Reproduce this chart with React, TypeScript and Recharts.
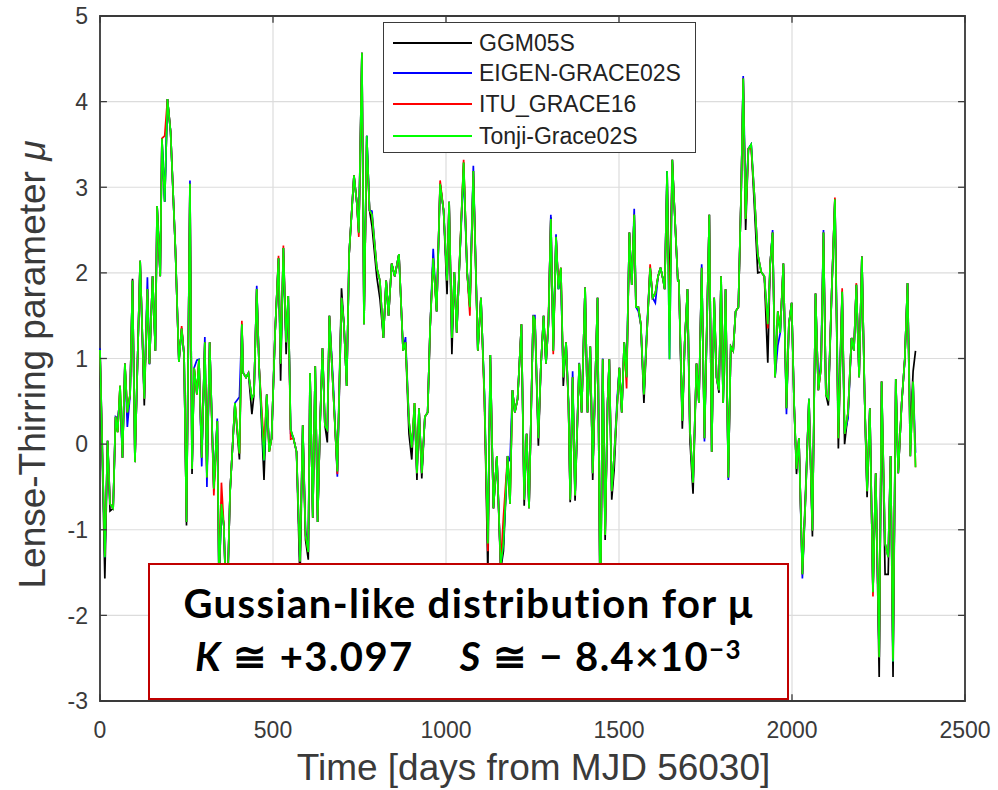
import React from 'react';
import { LineChart, Line, XAxis, YAxis, CartesianGrid, ReferenceLine, ReferenceArea } from 'recharts';

// days from MJD 56030 (shared sampling of the four solutions)
const days = [
  0, 14, 22, 29, 38, 45, 51, 58, 65, 72, 79, 87, 94, 101, 116, 128, 137, 143, 152, 160,
  165, 174, 179, 187, 195, 204, 218, 228, 236, 243, 250, 260, 266, 272, 280, 286, 294, 303, 309, 317,
  329, 339, 344, 351, 358, 366, 376, 390, 403, 410, 414, 422, 429, 439, 445, 453, 460, 474, 482, 489,
  496, 506, 516, 522, 530, 538, 544, 551, 559, 568, 578, 586, 594, 602, 607, 615, 622, 629, 636, 643,
  650, 657, 663, 674, 686, 698, 705, 713, 720, 734, 742, 748, 757, 763, 771, 779, 786, 800, 809, 819,
  827, 834, 843, 852, 864, 876, 883, 893, 901, 909, 916, 922, 930, 939, 947, 954, 963, 973, 983, 993,
  1003, 1009, 1017, 1024, 1031, 1038, 1051, 1061, 1069, 1079, 1092, 1101, 1111, 1121, 1128, 1137, 1147, 1158, 1166, 1178,
  1185, 1192, 1199, 1207, 1218, 1226, 1233, 1240, 1252, 1257, 1267, 1274, 1282, 1289, 1296, 1303, 1310, 1318, 1325, 1332,
  1339, 1347, 1354, 1359, 1366, 1373, 1385, 1392, 1402, 1409, 1417, 1424, 1431, 1438, 1446, 1453, 1460, 1467, 1472, 1479,
  1486, 1495, 1501, 1508, 1515, 1522, 1530, 1537, 1544, 1549, 1556, 1563, 1572, 1580, 1590, 1597, 1605, 1613, 1620, 1628,
  1632, 1639, 1646, 1654, 1660, 1670, 1673, 1683, 1690, 1698, 1705, 1714, 1724, 1731, 1739, 1747, 1754, 1761, 1768, 1775,
  1782, 1789, 1795, 1801, 1808, 1816, 1823, 1830, 1837, 1845, 1853, 1859, 1866, 1874, 1882, 1891, 1901, 1911, 1920, 1930,
  1937, 1944, 1951, 1959, 1966, 1975, 1984, 1991, 1999, 2006, 2013, 2020, 2030, 2039, 2049, 2059, 2068, 2076, 2084, 2091,
  2098, 2105, 2115, 2124, 2134, 2145, 2152, 2162, 2172, 2179, 2186, 2194, 2202, 2210, 2217, 2225, 2234, 2242, 2252, 2259,
  2269, 2278, 2285, 2292, 2300, 2307, 2317, 2326, 2334, 2342, 2350, 2357,
];

// Tonji-Grace02S (drawn on top, so it is the one mostly visible)
const tonji = [
  1.10, -1.32, 0.04, -0.70, -0.75, 0.32, 0.14, 0.68, -0.16, 0.94, 0.37, 0.58, 1.91, -0.21, 2.14, 0.53, 1.81, 0.94, 1.96, 1.09,
  2.78, 1.96, 3.57, 2.83, 4.03, 3.65, 2.27, 0.96, 1.35, 1.04, -0.91, 3.04, -0.29, 0.89, 0.58, 0.99, -0.16, 1.19, -0.39, 1.19,
  -0.52, 0.27, -1.62, -0.70, -0.96, -2.08, -0.55, 0.48, -0.11, 1.40, 0.83, 0.78, 0.83, 0.53, 0.58, 1.81, 0.89, -0.19, 0.58, -0.09,
  0.07, 1.30, 2.17, 0.94, 2.29, 1.19, 1.73, 0.17, 0.07, -0.09, -1.37, 0.22, -1.06, -1.26, 0.83, -0.86, 0.91, -0.91, 0.22, 1.12,
  0.22, 0.17, 1.50, 0.63, -0.32, 1.71, 1.40, 0.68, 2.22, 3.14, 2.83, 2.47, 4.57, 1.40, 3.60, 2.73, 2.68, 2.06, 1.91, 1.24,
  1.91, 1.50, 2.11, 1.96, 2.22, 1.09, 1.19, 0.27, -0.04, 0.48, -0.34, 0.42, -0.34, 0.32, 0.37, 1.35, 2.17, 1.55, 3.04, 2.73,
  1.91, 2.83, 1.24, 2.01, 1.30, 2.01, 3.29, 2.01, 1.60, 3.19, 1.09, 1.71, 0.58, -1.16, 1.04, -0.75, -0.14, -1.42, -1.16, -0.14,
  -0.70, 0.63, 0.37, 0.53, 1.40, -0.65, 0.12, -0.75, 1.50, 1.45, 0.07, 0.89, 1.50, 0.94, 1.40, 2.63, 1.09, 2.42, 1.81, 2.06,
  0.78, 1.19, 0.48, -0.65, 0.78, -0.60, 0.94, 0.37, 1.83, 0.37, 1.14, -0.34, 0.68, 1.71, -2.14, 0.99, -1.06, 0.48, 0.99, -0.55,
  -0.14, 0.48, 0.89, 0.37, 1.19, 0.78, 2.47, 1.86, 2.68, 1.60, 1.60, 1.40, 0.58, 1.24, 2.06, 1.71, 1.76, 1.96, 2.06, 1.91,
  1.81, 3.19, 0.99, 3.32, 2.78, 1.91, 1.91, 0.27, 1.19, 1.81, 0.17, -0.45, 0.94, 0.48, 2.06, 0.07, 1.40, 2.68, -0.09, 1.71,
  0.78, 0.63, 1.96, 0.48, 1.81, -0.39, 1.14, 1.09, 1.55, 1.60, 2.93, 4.27, 2.63, 3.45, 3.50, 2.93, 2.22, 2.01, 1.96, 1.40,
  2.11, 2.47, 0.78, 1.55, 1.30, 2.11, 0.42, 1.40, 1.65, 0.48, -0.29, 0.07, -1.52, -0.65, 0.53, -1.01, 1.76, 0.63, 0.89, 2.47,
  0.58, 0.53, 1.81, 2.86, 0.07, 1.78, 0.12, 0.37, 1.24, 1.09, 1.86, 0.78, 2.19, 0.53, -0.55, 0.42, -1.73, -0.34, -2.49, 0.73,
  -1.16, -1.32, -0.14, -2.54, 0.76, -0.34, 0.48, 0.99, 1.88, -0.14, 0.73, -0.27,
];

// points where the other solutions visibly depart from Tonji-Grace02S: [day, value]
const ggm05sDiff = [
  [14, -1.57], [29, -0.78], [94, 1.93], [128, 0.45], [250, -0.95], [266, -0.35], [403, -0.18], [439, 0.35],
  [474, -0.42], [522, 0.74], [538, 1.05], [578, -1.62], [594, -1.12], [602, -1.35], [657, 0.02], [698, 1.82],
  [786, 2.55], [800, 1.95], [809, 1.70], [893, 0.12], [901, -0.18], [916, -0.42], [930, -0.40], [1003, 1.75],
  [1017, 1.05], [1121, -1.53], [1158, -1.47], [1166, -1.25], [1226, -0.72], [1267, -0.02], [1303, 2.65], [1339, 0.68],
  [1359, -0.68], [1373, -0.66], [1424, -0.42], [1460, -1.12], [1479, -0.65], [1486, -0.30], [1572, 0.48], [1646, 1.65],
  [1683, 0.18], [1705, 0.05], [1714, -0.58], [1789, 0.60], [1866, 2.50], [1891, 2.80], [1901, 2.00], [1930, 0.95],
  [2013, -0.35], [2039, -0.58], [2059, -1.08], [2105, 0.45], [2134, -0.05], [2152, 0.00], [2217, -0.62], [2252, -2.72],
  [2269, -1.52], [2278, -1.52], [2292, -2.72], [2342, 0.10], [2350, 0.85], [2357, 1.09],
];
const eigenDiff = [
  [0, 1.12], [51, 0.30], [58, 0.50], [79, 0.20], [137, 1.95], [143, 0.93], [260, 3.08], [280, 0.98],
  [294, -0.26], [303, 1.25], [309, -0.50], [339, 0.30], [344, -1.70], [351, -0.68], [366, -2.10], [403, 0.55],
  [453, 1.85], [489, -0.04], [551, 0.12], [594, -1.00], [643, 1.12], [674, 0.72], [686, -0.38], [786, 2.72],
  [883, 1.25], [909, 0.42], [963, 2.28], [1051, 3.20], [1079, 3.25], [1185, -0.20], [1257, 1.50], [1303, 2.68],
  [1318, 2.45], [1332, 1.95], [1366, 0.85], [1385, 0.95], [1453, 1.00], [1460, -1.02], [1495, 0.55], [1544, 2.75],
  [1556, 1.55], [1580, 1.30], [1605, 1.65], [1739, 2.10], [1747, 0.03], [1754, 1.35], [1816, -0.42], [1859, 4.30],
  [1866, 2.85], [1944, 2.50], [1959, 1.15], [1984, 0.35], [2030, -1.57], [2084, 1.00], [2091, 2.50], [2134, 0.25],
  [2162, 0.30], [2357, -0.10],
];
const ituDiff = [
  [14, -1.30], [187, 3.60], [236, 1.38], [329, -0.60], [351, -0.45], [410, 1.44], [474, -0.02], [516, 2.20],
  [530, 2.32], [551, 0.06], [686, -0.35], [748, 2.42], [771, 3.50], [983, 3.08], [1051, 3.32], [1069, 1.50],
  [1111, 0.50], [1121, -1.25], [1166, -0.85], [1296, 1.45], [1310, 1.05], [1325, 1.85], [1354, 0.45], [1522, 0.65],
  [1590, 2.10], [1639, 3.10], [1646, 1.35], [1882, 3.45], [1930, 1.35], [1966, 1.35], [2049, 0.52], [2124, 2.88],
  [2145, 1.82], [2186, 1.88], [2234, -1.78], [2292, -2.50],
];

const xTicks = [0, 500, 1000, 1500, 2000, 2500];
const yTicks = [-3, -2, -1, 0, 1, 2, 3, 4, 5];

const seriesInfo = [
  { key: 'ggm', name: 'GGM05S', color: '#000000' },
  { key: 'eigen', name: 'EIGEN-GRACE02S', color: '#0000ff' },
  { key: 'itu', name: 'ITU_GRACE16', color: '#ff0000' },
  { key: 'tonji', name: 'Tonji-Grace02S', color: '#00ff00' },
];

const pick = (diff: number[][], day: number, fallback: number) => {
  const hit = diff.find((d) => d[0] === day);
  return hit ? hit[1] : fallback;
};

const data = days.map((day, i) => ({
  day,
  ggm: pick(ggm05sDiff, day, tonji[i]),
  eigen: pick(eigenDiff, day, tonji[i]),
  itu: pick(ituDiff, day, tonji[i]),
  tonji: tonji[i],
}));

const FONT = '"Liberation Sans", Arial, Helvetica, sans-serif';
const AXIS_GRAY = '#3a3a3a';

const YTick = ({ x, y, payload }: any) => (
  <text x={x} y={y} dy="0.36em" textAnchor="end" fontSize={23} fontFamily={FONT} fill={AXIS_GRAY}>
    {payload.value}
  </text>
);

const XTick = ({ x, y, payload }: any) => (
  <text x={x} y={y} dy="0.71em" textAnchor="middle" fontSize={23} fontFamily={FONT} fill={AXIS_GRAY}>
    {payload.value}
  </text>
);

const XLabel = ({ viewBox }: any) => (
  <text
    x={viewBox.x + viewBox.width / 2 + 1}
    y={viewBox.y + 79}
    textAnchor="middle"
    fontSize={37}
    fontFamily={FONT}
    fill={AXIS_GRAY}
  >
    Time [days from MJD 56030]
  </text>
);

const YLabel = ({ viewBox }: any) => {
  const cx = viewBox.x + 32;
  const cy = viewBox.y + viewBox.height / 2 + 6;
  return (
    <text
      transform={`translate(${cx},${cy}) rotate(-90)`}
      textAnchor="middle"
      dominantBaseline="central"
      fontSize={37}
      fontFamily={FONT}
      fill={AXIS_GRAY}
    >
      Lense-Thirring parameter <tspan fontStyle="italic">{'\u03bc'}</tspan>
    </text>
  );
};

const annLine: React.CSSProperties = {
  position: 'absolute',
  left: 0,
  right: 0,
  fontSize: 40,
  lineHeight: '48px',
  height: 48,
  letterSpacing: 1.4,
  whiteSpace: 'nowrap',
};

export default function App() {
  return (
    <div style={{ position: 'absolute', left: 0, top: 0, width: 998, height: 790, background: '#fff' }}>
      <LineChart width={998} height={790} data={data} margin={{ top: 16, right: 33, bottom: 0, left: 0 }}>
        <CartesianGrid stroke="#dcdcdc" strokeWidth={1.2} />
        <XAxis
          dataKey="day"
          type="number"
          domain={[0, 2500]}
          ticks={xTicks}
          height={89}
          tickSize={0}
          tickMargin={21}
          axisLine={false}
          tickLine={false}
          tick={XTick}
          label={XLabel}
        />
        <YAxis
          type="number"
          domain={[-3, 5]}
          ticks={yTicks}
          width={100}
          tickSize={0}
          tickMargin={12}
          axisLine={false}
          tickLine={false}
          tick={YTick}
          label={YLabel}
        />
        {seriesInfo.map((s) => (
          <Line
            key={s.key}
            dataKey={s.key}
            name={s.name}
            type="linear"
            stroke={s.color}
            strokeWidth={1.7}
            dot={false}
            isAnimationActive={false}
          />
        ))}
        {yTicks.map((v) => (
          <ReferenceLine key={'yl' + v} segment={[{ x: 0, y: v }, { x: 20, y: v }]} stroke={AXIS_GRAY} strokeWidth={1.3} />
        ))}
        {yTicks.map((v) => (
          <ReferenceLine key={'yr' + v} segment={[{ x: 2480, y: v }, { x: 2500, y: v }]} stroke={AXIS_GRAY} strokeWidth={1.3} />
        ))}
        {xTicks.map((t) => (
          <ReferenceLine key={'xb' + t} segment={[{ x: t, y: -3 }, { x: t, y: -2.92 }]} stroke={AXIS_GRAY} strokeWidth={1.3} />
        ))}
        {xTicks.map((t) => (
          <ReferenceLine key={'xt' + t} segment={[{ x: t, y: 4.92 }, { x: t, y: 5 }]} stroke={AXIS_GRAY} strokeWidth={1.3} />
        ))}
        <ReferenceArea x1={0} x2={2500} y1={-3} y2={5} fill="none" fillOpacity={0} stroke={AXIS_GRAY} strokeWidth={1.8} />
      </LineChart>

      {/* legend box, top-centre of the axes */}
      <div
        style={{
          position: 'absolute',
          left: 383,
          top: 22,
          width: 311,
          height: 129,
          border: `1.8px solid ${AXIS_GRAY}`,
          background: '#fff',
          fontFamily: FONT,
          fontSize: 23,
          color: '#222',
        }}
      >
        {seriesInfo.map((s, i) => (
          <div
            key={s.key}
            style={{ position: 'absolute', left: 9, top: [7, 37, 68, 100][i], height: 26, display: 'flex', alignItems: 'center' }}
          >
            <div style={{ width: 79, height: 0, borderTop: `2px solid ${s.color}` }} />
            <span style={{ marginLeft: 7, whiteSpace: 'nowrap' }}>{s.name}</span>
          </div>
        ))}
      </div>

      {/* annotation box */}
      <div
        style={{
          position: 'absolute',
          left: 148,
          top: 563,
          width: 637,
          height: 133,
          border: '2.5px solid #c00000',
          background: '#fff',
          fontFamily: 'Lato, "Open Sans", sans-serif',
          fontWeight: 700,
          color: '#000',
          textAlign: 'center',
        }}
      >
        <div style={{ ...annLine, top: 14 }}>Gussian-like distribution for {'\u03bc'}</div>
        <div style={{ ...annLine, top: 67 }}>
          <i>K</i> {'\u2245'} +3.097<span style={{ display: 'inline-block', width: 46 }} />
          <i>S</i> {'\u2245'} {'\u2212'} 8.4{'\u00d7'}10
          <span style={{ fontSize: 26, lineHeight: '26px', position: 'relative', top: -12 }}>{'\u2212'}3</span>
        </div>
      </div>
    </div>
  );
}
